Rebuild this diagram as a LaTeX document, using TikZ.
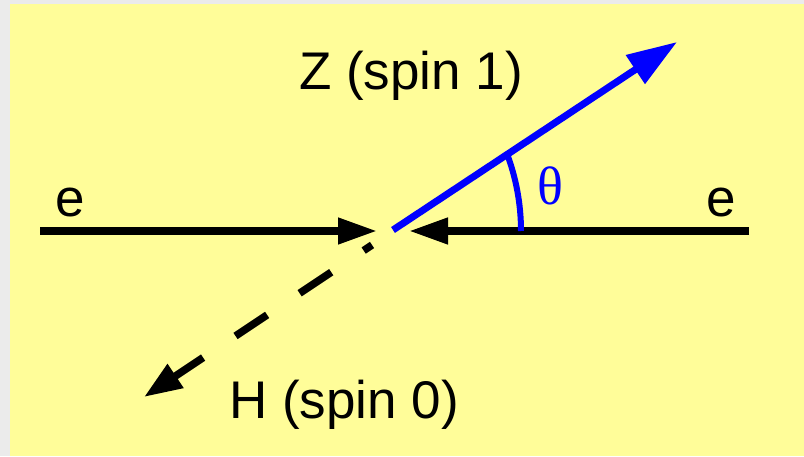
\documentclass[tikz,border=0pt]{standalone}
\usepackage{fontspec}
\setmainfont{Liberation Sans}
\newfontfamily\thetafont{Liberation Serif}
\usetikzlibrary{arrows.meta}
\definecolor{bgyellow}{RGB}{255,253,153}
\definecolor{bggray}{RGB}{235,235,235}
\definecolor{zblue}{RGB}{0,0,255}
\tikzset{
  beam/.style={line width=7.5pt, black},
  zline/.style={line width=7pt, zblue},
  hline/.style={line width=7.5pt, black, dash pattern=on 38pt off 39pt, dash phase=28pt},
  lbl/.style={inner sep=0pt, anchor=base, font=\fontsize{53}{62}\selectfont},
}
\begin{document}
\begin{tikzpicture}[x=1pt,y=1pt]
\useasboundingbox (0,0) rectangle (804,456);
\fill[bggray] (0,0) rectangle (804,456);
\fill[bgyellow] (10,0) rectangle (804,452);
% coordinates
\coordinate (L) at (40,225);
\coordinate (Ltip) at (377,225);
\coordinate (R) at (749,225);
\coordinate (Rtip) at (409,225);
\coordinate (O) at (393,226);
\coordinate (Ztip) at (677,414);
\coordinate (Hs) at (372,211);
\coordinate (Htip) at (144,59);
\coordinate (A0) at (521,225);
% electrons
\draw[beam, -{Triangle[length=39pt,width=25pt]}] (L) -- (Ltip);
\draw[beam, -{Triangle[length=39pt,width=25pt]}] (R) -- (Rtip);
% Z
\draw[zline, -{Triangle[length=50pt,width=33pt]}] (O) -- (Ztip);
% angle arc
\draw[zblue, line width=6pt] (A0) arc[start angle=0, end angle=21, radius=220];
% H
\draw[hline, -{Triangle[length=38pt,width=27pt]}] (Hs) -- (Htip);
% labels
\node[lbl] (zlab) at (411,366) {Z (spin 1)};
\node[lbl] (hlab) at (344,38) {H (spin 0)};
\node[lbl] (e1) at (70.5,239) {e};
\node[lbl] (e2) at (721,239) {e};
\node[inner sep=0pt, text=zblue, font=\thetafont\fontsize{54}{62}\selectfont] (th) at (550,270) {θ};
\end{tikzpicture}
\end{document}
